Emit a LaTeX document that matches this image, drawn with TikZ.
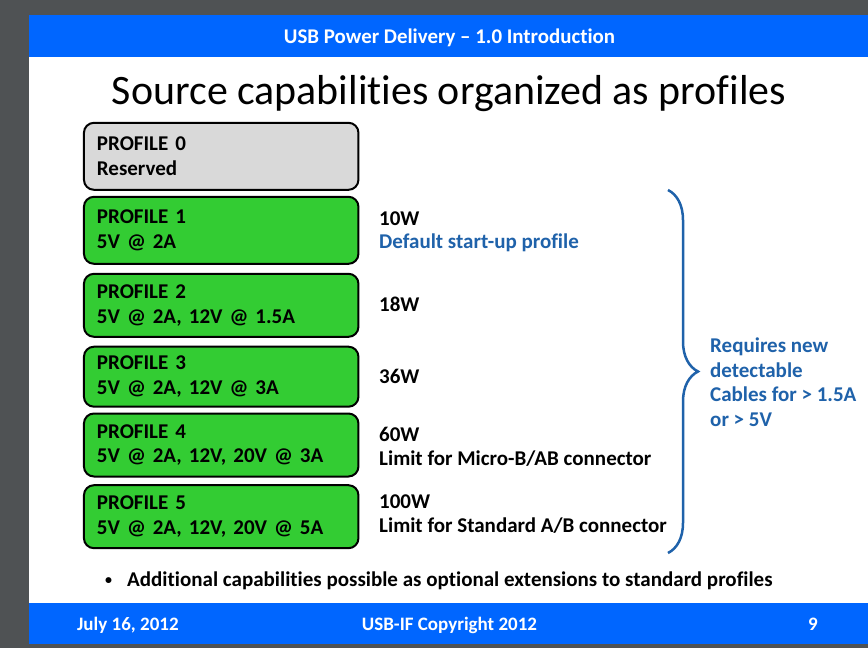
\documentclass[tikz,border=0pt]{standalone}
\usepackage{fontspec}
\setmainfont{Carlito}[Ligatures={TeX,NoCommon}]
\usepackage{tikz}
\usetikzlibrary{decorations.pathreplacing}
\definecolor{barblue}{RGB}{0,102,255}
\definecolor{capblue}{RGB}{31,98,170}
\definecolor{profgreen}{RGB}{51,204,51}
\definecolor{profgray}{RGB}{217,217,217}
\definecolor{framegray}{RGB}{79,82,84}
\tikzstyle{profbox} = [draw=black, line width=2pt, rounded corners=10pt, text width=248.5pt, inner xsep=13pt, inner ysep=0pt, align=left, font=\fontsize{21}{24.5}\selectfont\bfseries]
\tikzstyle{side} = [anchor=base west, inner sep=0pt, font=\fontsize{21}{24.5}\selectfont\bfseries]
\tikzstyle{bar} = [anchor=base, inner sep=0pt, text=white, font=\fontsize{19}{23}\selectfont\bfseries]
\tikzstyle{capbrace} = [draw=capblue, line width=2.5pt, decorate, decoration={brace, amplitude=30pt}]

\begin{document}
\begin{tikzpicture}[x=1pt, y=-1pt]
	\useasboundingbox (0,0) rectangle (868,648);
	\fill[framegray] (0,0) rectangle (868,648);
	\fill[white] (29,15) rectangle (868,644);
	\fill[barblue] (29,15) rectangle (868,57);
	\fill[barblue] (29,603) rectangle (868,644);

	\node[bar, font=\fontsize{20.9}{25}\selectfont\bfseries] (head) at (449.5,43.5) {USB Power Delivery -- 1.0 Introduction};
	\node[anchor=base, inner sep=0pt, font=\fontsize{41.9}{50}\selectfont] (title) at (449,104) {Source capabilities organized as profiles};

	\node[profbox, fill=profgray, minimum height=67pt] (p0) at (221.2,156.3) {PROFILE 0\\Reserved};
	\node[profbox, fill=profgreen, minimum height=67pt] (p1) at (221.2,230.3) {PROFILE 1\\5V @ 2A};
	\node[profbox, fill=profgreen, minimum height=63pt] (p2) at (221.2,305.3) {PROFILE 2\\5V @ 2A, 12V @ 1.5A};
	\node[profbox, fill=profgreen, minimum height=60pt] (p3) at (221.2,376.7) {PROFILE 3\\5V @ 2A, 12V @ 3A};
	\node[profbox, fill=profgreen, minimum height=63pt] (p4) at (221.2,445) {PROFILE 4\\5V @ 2A, 12V, 20V @ 3A};
	\node[profbox, fill=profgreen, minimum height=63pt] (p5) at (221.2,516.7) {PROFILE 5\\5V @ 2A, 12V, 20V @ 5A};

	\node[side] (w1) at (379,225) {10W};
	\node[side, text=capblue] (d1) at (379,248) {Default start-up profile};
	\node[side] (w2) at (379,311) {18W};
	\node[side] (w3) at (379,383) {36W};
	\node[side] (w4) at (379,441) {60W};
	\node[side] (l4) at (379,465) {Limit for Micro-B/AB connector};
	\node[side] (w5) at (379,508) {100W};
	\node[side] (l5) at (379,532) {Limit for Standard A/B connector};

	\coordinate (btop) at (668,190);
	\coordinate (bbot) at (668,553);
	\draw[capbrace] (btop) -- (bbot);
	\node[anchor=west, inner sep=0pt, align=left, text=capblue, font=\fontsize{21}{24.5}\selectfont\bfseries] (req) at (710,382) {Requires new\\detectable\\Cables for > 1.5A\\or > 5V};

	\node[side] (ext) at (105,586) {\makebox[22pt][l]{\raisebox{1.5pt}{\fontsize{14}{14}\selectfont\textbullet}}Additional capabilities possible as optional extensions to standard profiles};

	\node[bar, anchor=base west] (date) at (77,630) {July 16, 2012};
	\node[bar] (copy) at (449.5,630) {USB-IF Copyright 2012};
	\node[bar, anchor=base west] (page) at (808,630) {9};
\end{tikzpicture}
\end{document}
